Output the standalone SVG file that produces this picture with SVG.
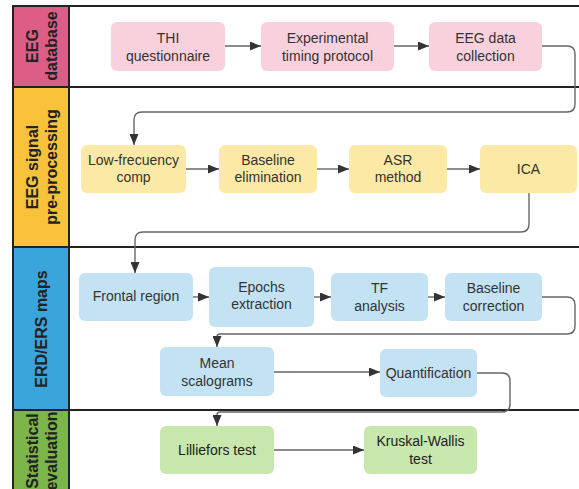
<svg xmlns="http://www.w3.org/2000/svg" width="579" height="489" viewBox="0 0 579 489">
<defs>
<marker id="arr" markerUnits="userSpaceOnUse" markerWidth="11" markerHeight="9" refX="11" refY="4.5" orient="auto">
<path d="M0,0 L11,4.5 L0,9 z" fill="#333"/>
</marker>
<style>
.lane{stroke:#222;stroke-width:2}
.lt{font-family:"Liberation Sans",Arial,sans-serif;font-size:16px;font-weight:bold;fill:#222;text-anchor:middle}
.nt{font-family:"Liberation Sans",Arial,sans-serif;font-size:14px;fill:#333;text-anchor:middle}
.pk{fill:#f9d1dc}
.yl{fill:#fde9a6}
.bl{fill:#c3e3f5}
.gr{fill:#c7e7ac}
.c{fill:none;stroke:#666;stroke-width:1.4;marker-end:url(#arr)}
</style>
</defs>
<rect width="579" height="489" fill="#fff"/>
<g id="lanes">
<rect x="13" y="6" width="56" height="81" fill="#dc5e87"/>
<rect x="13" y="87" width="56" height="160" fill="#f8c23b"/>
<rect x="13" y="247" width="56" height="163" fill="#3aa4dd"/>
<rect x="13" y="410" width="56" height="85" fill="#7cb549"/>
<path class="lane" fill="none" d="M13,495 L13,6 L585,6 M69,6 L69,495 M13,87 L585,87 M13,247 L585,247 M13,410 L585,410"/>
<text class="lt" transform="translate(38,46) rotate(-90)">EEG</text>
<text class="lt" transform="translate(57,46) rotate(-90)">database</text>
<text class="lt" transform="translate(38,167) rotate(-90)">EEG signal</text>
<text class="lt" transform="translate(57,167) rotate(-90)">pre-processing</text>
<text class="lt" transform="translate(47,329) rotate(-90)">ERD/ERS maps</text>
<text class="lt" transform="translate(38,451) rotate(-90)">Statistical</text>
<text class="lt" transform="translate(57,451) rotate(-90)">evaluation</text>
</g>
<g id="connectors">
<path class="c" d="M225,46 L261,46"/>
<path class="c" d="M394,46 L429,46"/>
<path class="c" d="M542,46 L567,46 Q575,46 575,54 L575,104 Q575,112 567,112 L142,112 Q134,112 134,120 L134,145"/>
<path class="c" d="M186,169 L219,169"/>
<path class="c" d="M317,169 L349,169"/>
<path class="c" d="M447,169 L480,169"/>
<path class="c" d="M529,193 L529,224 Q529,232 521,232 L143,232 Q135,232 135,240 L135,273"/>
<path class="c" d="M193,297 L209,297"/>
<path class="c" d="M314,297 L331,297"/>
<path class="c" d="M428,297 L445,297"/>
<path class="c" d="M542,297 L567,297 Q575,297 575,305 L575,326 Q575,334 567,334 L220,334 Q217,334 217,337 L217,347"/>
<path class="c" d="M274,372 L380,372"/>
<path class="c" d="M477,373 L502,373 Q510,373 510,381 L510,404 Q510,412 502,412 L220,412 Q217,412 217,415 L217,426"/>
<path class="c" d="M274,450 L364,450"/>
</g>
<g id="n1"><rect class="pk" x="111" y="22" width="114" height="49" rx="6"/><text class="nt" x="168" y="43">THI</text><text class="nt" x="168" y="61">questionnaire</text></g>
<g id="n2"><rect class="pk" x="261" y="22" width="133" height="49" rx="6"/><text class="nt" x="327.5" y="43">Experimental</text><text class="nt" x="327.5" y="61">timing protocol</text></g>
<g id="n3"><rect class="pk" x="429" y="22" width="113" height="49" rx="6"/><text class="nt" x="485.5" y="43">EEG data</text><text class="nt" x="485.5" y="61">collection</text></g>
<g id="n4"><rect class="yl" x="81" y="145" width="105" height="48" rx="6"/><text class="nt" x="133.5" y="165">Low-frecuency</text><text class="nt" x="133.5" y="182">comp</text></g>
<g id="n5"><rect class="yl" x="219" y="145" width="98" height="48" rx="6"/><text class="nt" x="268" y="165">Baseline</text><text class="nt" x="268" y="182">elimination</text></g>
<g id="n6"><rect class="yl" x="349" y="145" width="98" height="48" rx="6"/><text class="nt" x="398" y="165">ASR</text><text class="nt" x="398" y="182">method</text></g>
<g id="n7"><rect class="yl" x="480" y="145" width="97" height="48" rx="6"/><text class="nt" x="528.5" y="174">ICA</text></g>
<g id="n8"><rect class="bl" x="79" y="273" width="114" height="48" rx="6"/><text class="nt" x="136" y="301">Frontal region</text></g>
<g id="n9"><rect class="bl" x="209" y="267" width="105" height="60" rx="6"/><text class="nt" x="261.5" y="292">Epochs</text><text class="nt" x="261.5" y="309">extraction</text></g>
<g id="n10"><rect class="bl" x="331" y="273" width="97" height="48" rx="6"/><text class="nt" x="379.5" y="293">TF</text><text class="nt" x="379.5" y="311">analysis</text></g>
<g id="n11"><rect class="bl" x="445" y="273" width="97" height="48" rx="6"/><text class="nt" x="493.5" y="293">Baseline</text><text class="nt" x="493.5" y="311">correction</text></g>
<g id="n12"><rect class="bl" x="160" y="347" width="114" height="49" rx="6"/><text class="nt" x="217" y="368">Mean</text><text class="nt" x="217" y="386">scalograms</text></g>
<g id="n13"><rect class="bl" x="380" y="349" width="97" height="48" rx="6"/><text class="nt" x="428.5" y="378">Quantification</text></g>
<g id="n14"><rect class="gr" x="160" y="426" width="114" height="48" rx="6"/><text class="nt" x="217" y="455" style="fill:#222">Lilliefors test</text></g>
<g id="n15"><rect class="gr" x="364" y="426" width="113" height="48" rx="6"/><text class="nt" x="420.5" y="446" style="fill:#222">Kruskal-Wallis</text><text class="nt" x="420.5" y="464" style="fill:#222">test</text></g>
</svg>
